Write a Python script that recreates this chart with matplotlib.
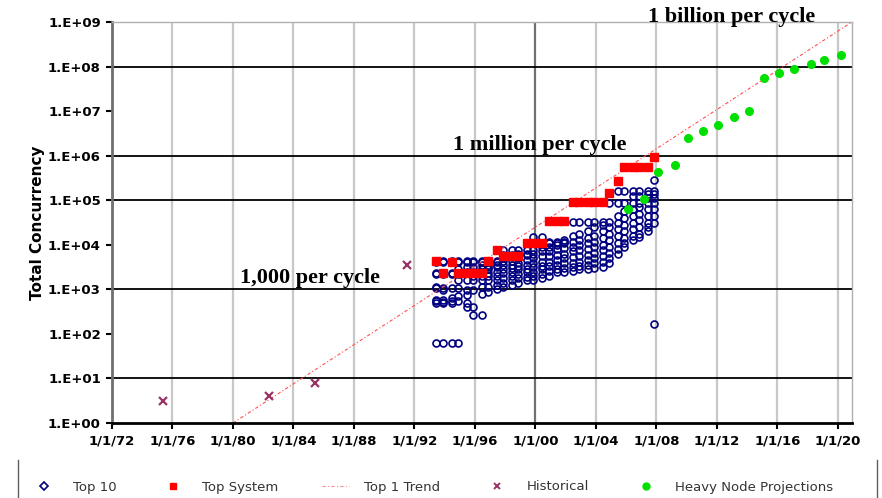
import numpy as np
import matplotlib.pyplot as plt
from matplotlib.lines import Line2D

# Top500 list dates (June / November) and log10 of concurrency for the top 10 entries
list_years = [1993.45, 1993.87, 1994.45, 1994.87, 1995.45, 1995.87, 1996.45, 1996.87,
              1997.45, 1997.87, 1998.45, 1998.87, 1999.45, 1999.87, 2000.45, 2000.87,
              2001.45, 2001.87, 2002.45, 2002.87, 2003.45, 2003.87, 2004.45, 2004.87,
              2005.45, 2005.87, 2006.45, 2006.87, 2007.45, 2007.87]
top10_exp = [
    [3.64, 3.62, 3.36, 3.34, 3.05, 3.03, 2.75, 2.73, 2.70, 1.79],
    [3.37, 3.64, 3.62, 3.34, 3.03, 2.98, 2.75, 2.72, 2.70, 1.79],
    [3.61, 3.64, 3.62, 3.37, 3.34, 3.03, 2.80, 2.74, 2.69, 1.79],
    [3.36, 3.64, 3.61, 3.45, 3.34, 3.20, 3.03, 2.84, 2.73, 1.79],
    [3.36, 3.64, 3.61, 3.50, 3.40, 3.21, 2.99, 2.88, 2.70, 2.61],
    [3.36, 3.64, 3.61, 3.50, 3.40, 3.30, 3.21, 2.99, 2.61, 2.43],
    [3.36, 3.64, 3.61, 3.55, 3.45, 3.30, 3.21, 3.05, 2.90, 2.43],
    [3.64, 3.61, 3.55, 3.50, 3.45, 3.36, 3.30, 3.21, 3.05, 2.95],
    [3.88, 3.64, 3.61, 3.55, 3.50, 3.40, 3.30, 3.21, 3.10, 3.00],
    [3.76, 3.88, 3.70, 3.64, 3.55, 3.45, 3.36, 3.25, 3.15, 3.05],
    [3.76, 3.88, 3.72, 3.64, 3.55, 3.48, 3.40, 3.30, 3.20, 3.10],
    [3.76, 3.88, 3.80, 3.70, 3.60, 3.52, 3.45, 3.35, 3.25, 3.15],
    [4.03, 3.88, 3.80, 3.76, 3.65, 3.55, 3.45, 3.38, 3.28, 3.21],
    [4.03, 4.18, 3.88, 3.80, 3.70, 3.60, 3.50, 3.40, 3.30, 3.21],
    [4.03, 4.18, 3.95, 3.85, 3.75, 3.62, 3.52, 3.45, 3.35, 3.25],
    [4.54, 4.07, 4.03, 3.95, 3.85, 3.75, 3.62, 3.52, 3.42, 3.30],
    [4.54, 4.07, 4.03, 4.00, 3.90, 3.78, 3.65, 3.55, 3.45, 3.38],
    [4.54, 4.07, 4.03, 4.10, 3.92, 3.80, 3.70, 3.58, 3.48, 3.40],
    [4.95, 4.52, 4.20, 4.07, 3.95, 3.85, 3.72, 3.60, 3.50, 3.42],
    [4.95, 4.52, 4.25, 4.10, 4.00, 3.88, 3.75, 3.62, 3.52, 3.45],
    [4.95, 4.52, 4.30, 4.15, 4.03, 3.90, 3.78, 3.65, 3.55, 3.46],
    [4.95, 4.52, 4.40, 4.20, 4.07, 3.95, 3.82, 3.70, 3.58, 3.48],
    [4.95, 4.52, 4.45, 4.30, 4.15, 4.00, 3.88, 3.75, 3.62, 3.50],
    [5.16, 4.94, 4.52, 4.40, 4.25, 4.10, 3.95, 3.82, 3.70, 3.60],
    [5.44, 5.20, 4.94, 4.65, 4.50, 4.35, 4.20, 4.05, 3.90, 3.80],
    [5.75, 5.20, 4.94, 4.75, 4.60, 4.45, 4.30, 4.15, 4.05, 3.95],
    [5.75, 5.20, 5.10, 4.94, 4.80, 4.65, 4.50, 4.35, 4.20, 4.10],
    [5.75, 5.20, 5.10, 4.94, 4.85, 4.70, 4.55, 4.40, 4.25, 4.18],
    [5.75, 5.20, 5.15, 5.05, 4.94, 4.80, 4.65, 4.50, 4.40, 4.30],
    [5.96, 5.45, 5.20, 5.15, 5.05, 4.94, 4.80, 4.65, 4.50, 2.22],
]
top_system = [4336, 2372, 4057, 2300, 2300, 2300, 2300, 4336, 7650, 5700, 5700, 5700,
              10800, 10800, 10800, 35000, 35000, 35000, 89000, 89000, 89000, 89000, 89000,
              145000, 277000, 560000, 560000, 560000, 560000, 910000]

trend_years = [1980, 2020.93]
trend_vals = [1, 1e9]

hist_years = [1975.4, 1982.4, 1985.4, 1991.5]
hist_vals = [3.05, 4.1, 8.1, 3500]

proj_years = [2006.1, 2007.2, 2008.1, 2009.2, 2010.1, 2011.1, 2012.1, 2013.1,
              2014.1, 2015.1, 2016.1, 2017.1, 2018.2, 2019.1, 2020.2]
proj_vals = [6.3e4, 1.05e5, 4.2e5, 6.3e5, 2.5e6, 3.6e6, 5.0e6, 7.3e6,
             1.0e7, 5.5e7, 7.0e7, 8.7e7, 1.14e8, 1.4e8, 1.8e8]

tick_years = [1972, 1976, 1980, 1984, 1988, 1992, 1996, 2000, 2004, 2008, 2012, 2016, 2020]
tick_labels = ["1/1/72", "1/1/76", "1/1/80", "1/1/84", "1/1/88", "1/1/92", "1/1/96",
               "1/1/00", "1/1/04", "1/1/08", "1/1/12", "1/1/16", "1/1/20"]

W, H = 882, 498
fig = plt.figure(figsize=(W / 100, H / 100), dpi=100)
ax = fig.add_axes([112 / W, 1 - 423 / H, (852 - 112) / W, (423 - 22) / H])

ax.set_yscale("log")
ax.set_xlim(1972, 2020.93)
ax.set_ylim(1, 1e9)

# grid lines
for t in tick_years:
    c = "#707070" if t == 2000 else "#c8c8c8"
    ax.axvline(t, color=c, lw=1.6, zorder=0)
for e in [1, 3, 5, 6, 8]:
    ax.axhline(10 ** e, color="black", lw=1.3, zorder=0)

tx = np.repeat(list_years, 10)
ty = 10 ** np.array(top10_exp).ravel()
ax.plot(tx, ty, "o", ls="none", ms=5.0, mfc="none", mec="#000080", mew=1.2, zorder=2)
ax.plot(list_years, top_system, "s", ls="none", ms=5.4, color="red", mec="red", zorder=3)
ax.plot(trend_years, trend_vals, ls=(0, (3, 2, 1, 2)), color="#ff5050", lw=0.8, zorder=2)
ax.plot(hist_years, hist_vals, "x", ls="none", ms=5.5, mew=1.6, color="#993366", zorder=3)
ax.plot(proj_years, proj_vals, "o", ls="none", ms=5.5, color="#00e000", mec="#00e000", zorder=4)

ax.set_yticks([10 ** e for e in range(10)])
ax.set_yticklabels(["1.E+%02d" % e for e in range(10)], fontweight="bold", fontsize=9.5)
ax.minorticks_off()
ax.set_xticks(tick_years)
ax.set_xticklabels(tick_labels, fontweight="bold", fontsize=9.5)
ax.tick_params(axis="both", length=4, width=1.5, color="black", pad=4)

for s in ["top", "right"]:
    ax.spines[s].set_color("#b0b0b0")
    ax.spines[s].set_linewidth(1)
ax.spines["left"].set_color("#707070")
ax.spines["left"].set_linewidth(2)
ax.spines["bottom"].set_color("black")
ax.spines["bottom"].set_linewidth(2)

ax.set_ylabel("Total Concurrency", fontweight="bold", fontsize=11, labelpad=2)

serif = dict(family="Liberation Serif", fontweight="bold", fontsize=16)
ax.text(1980.46, 10 ** 3.14, "1,000 per cycle", ha="left", va="baseline", **serif)
ax.text(1994.55, 10 ** 6.125, "1 million per cycle", ha="left", va="baseline", **serif)
ax.text(2007.44, 10 ** 9.01, "1 billion per cycle", ha="left", va="baseline", **serif)

handles = [
    Line2D([], [], marker="D", ls="none", ms=4, mfc="none", mec="#000080", mew=1.2),
    Line2D([], [], marker="s", ls="none", ms=5, color="red"),
    Line2D([], [], ls=(0, (3, 2, 1, 2)), color="#ff9090", lw=0.8),
    Line2D([], [], marker="x", ls="none", ms=5, mew=1.4, color="#993366"),
    Line2D([], [], marker="o", ls="none", ms=5, color="#00e000"),
]
labels = ["Top 10", "Top System", "Top 1 Trend", "Historical", "Heavy Node Projections"]
fig.legend(handles, labels, loc="center left", bbox_to_anchor=(19 / W, 1 - 487 / H),
           ncol=5, frameon=False, fontsize=9.5, columnspacing=3.3, handletextpad=1.2,
           labelcolor="#333333")
for xb in [18, 877]:
    fig.add_artist(Line2D([xb / W, xb / W], [0, 1 - 460 / H], color="#606060", lw=1))

fig.savefig("out.png", dpi=100)
